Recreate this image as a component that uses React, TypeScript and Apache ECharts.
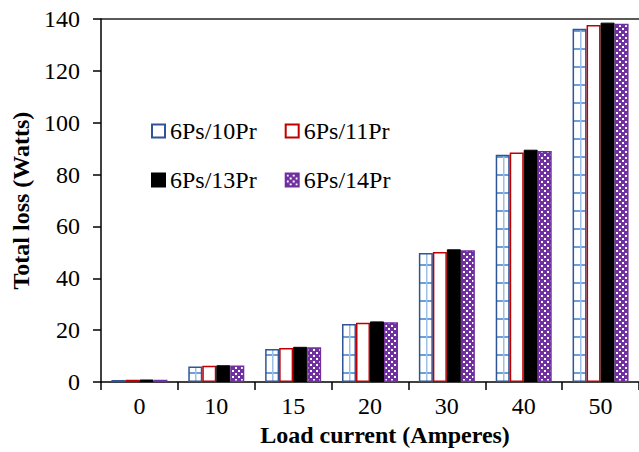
import React, { useEffect, useRef } from 'react';
import * as echarts from 'echarts';

const categories = ['0', '10', '15', '20', '30', '40', '50'];
const seriesNames = ['6Ps/10Pr', '6Ps/11Pr', '6Ps/13Pr', '6Ps/14Pr'];
const pr10 = [0.8, 6.0, 12.8, 22.4, 49.8, 87.7, 136.2];
const pr11 = [0.9, 6.3, 13.1, 22.9, 50.2, 88.5, 137.7];
const pr13 = [1.0, 6.5, 13.6, 23.4, 51.2, 89.6, 138.6];
const pr14 = [0.9, 6.4, 13.4, 23.1, 50.8, 89.1, 138.2];
const yMin = 0;
const yMax = 140;
const yStep = 20;

const FONT = 'Liberation Serif';

function gridPattern(): HTMLCanvasElement {
  const c = document.createElement('canvas');
  c.width = 77;
  c.height = 18;
  const g = c.getContext('2d')!;
  g.fillStyle = '#ffffff';
  g.fillRect(0, 0, 77, 18);
  g.fillStyle = '#6f9fd8';
  g.fillRect(0, 12, 77, 2);
  g.fillStyle = '#9cc0ea';
  g.fillRect(41, 0, 1.5, 18);
  return c;
}

function checkPattern(): HTMLCanvasElement {
  const c = document.createElement('canvas');
  c.width = 6;
  c.height = 6;
  const g = c.getContext('2d')!;
  g.fillStyle = '#7030a0';
  g.fillRect(0, 0, 6, 6);
  g.fillStyle = '#ffffff';
  g.fillRect(1, 1, 2, 2);
  g.fillRect(4, 4, 2, 2);
  return c;
}

export default function App() {
  const ref = useRef<HTMLDivElement>(null);
  useEffect(() => {
    if (!ref.current) return;
    const chart = echarts.init(ref.current, undefined, { renderer: 'svg' });
    const gp = gridPattern();
    const cp = checkPattern();
    const gridFill: any = { image: gp, repeat: 'repeat', imageWidth: 77, imageHeight: 18 };
    const checkFill: any = { image: cp, repeat: 'repeat', imageWidth: 6, imageHeight: 6 };
    const legendText = { fontFamily: FONT, fontSize: 24, color: '#000' };
    const splitColors: string[] = [];
    for (let v = yMin; v <= yMax; v += yStep) splitColors.push(v === yMax ? '#222' : 'rgba(0,0,0,0)');
    const option: any = {
      animation: false,
      backgroundColor: '#fff',
      textStyle: { fontFamily: FONT },
      grid: { left: 101, top: 19, width: 539, height: 369 },
      legend: [
        {
          data: [
            { name: seriesNames[0], itemStyle: { color: '#fff' } },
            { name: seriesNames[1] },
          ],
          left: 146, top: 114, itemWidth: 13, itemHeight: 13, itemGap: 28,
          icon: 'rect', textStyle: legendText,
        },
        {
          data: [{ name: seriesNames[2] }, { name: seriesNames[3] }],
          left: 146, top: 163, itemWidth: 13, itemHeight: 13, itemGap: 28,
          icon: 'rect', textStyle: legendText,
        },
      ],
      xAxis: {
        type: 'category',
        data: categories,
        axisLine: { lineStyle: { color: '#000', width: 1.5 } },
        axisTick: { show: true, length: 8, lineStyle: { color: '#000', width: 1.5 } },
        axisLabel: { fontFamily: FONT, fontSize: 24, color: '#000', margin: 12 },
        name: 'Load current (Amperes)',
        nameLocation: 'middle',
        nameGap: 36,
        nameTextStyle: { fontFamily: FONT, fontSize: 24, fontWeight: 'bold', color: '#000', padding: [0, 0, 0, 30] },
      },
      yAxis: {
        type: 'value',
        min: yMin,
        max: yMax,
        interval: yStep,
        axisLine: { show: true, lineStyle: { color: '#000', width: 1.5 } },
        axisTick: { show: true, length: 8, lineStyle: { color: '#000', width: 1.5 } },
        axisLabel: { fontFamily: FONT, fontSize: 24, color: '#000', margin: 21 },
        splitLine: { show: true, lineStyle: { color: splitColors, width: 1.5 } },
        name: 'Total loss (Watts)',
        nameLocation: 'middle',
        nameGap: 64,
        nameTextStyle: { fontFamily: FONT, fontSize: 24, fontWeight: 'bold', color: '#000' },
      },
      series: [
        {
          type: 'bar', name: seriesNames[0], data: pr10, barWidth: 14, barGap: '0%',
          itemStyle: { color: gridFill, borderColor: '#2f5597', borderWidth: 1.5 },
        },
        {
          type: 'bar', name: seriesNames[1], data: pr11, barWidth: 14, barGap: '0%',
          itemStyle: { color: '#fff', borderColor: '#c00000', borderWidth: 1.5 },
        },
        {
          type: 'bar', name: seriesNames[2], data: pr13, barWidth: 14, barGap: '0%',
          itemStyle: { color: '#000', borderColor: '#000', borderWidth: 1 },
        },
        {
          type: 'bar', name: seriesNames[3], data: pr14, barWidth: 14, barGap: '0%',
          itemStyle: { color: checkFill, borderColor: '#7030a0', borderWidth: 1.5 },
        },
      ],
    };
    chart.setOption(option);
    return () => chart.dispose();
  }, []);
  return (
    <div
      ref={ref}
      style={{ position: 'fixed', left: 0, top: 0, width: 639, height: 452, background: '#fff' }}
    />
  );
}
